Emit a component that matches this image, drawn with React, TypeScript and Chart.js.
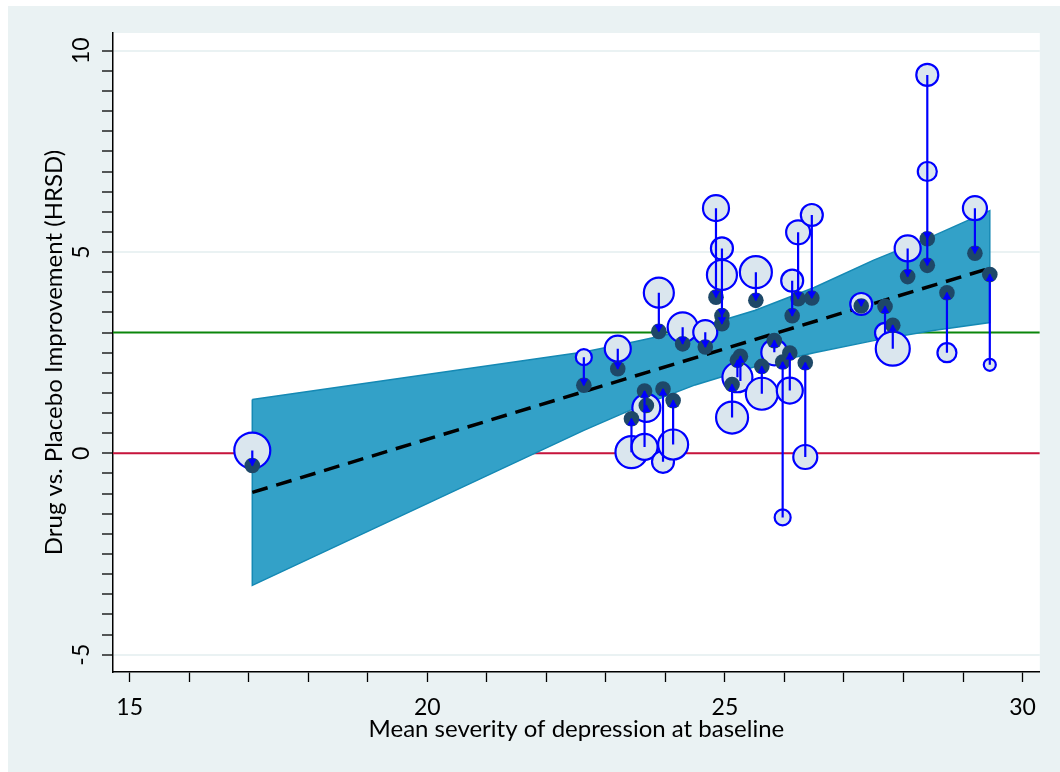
import React, { useEffect, useRef } from 'react';
import { Chart, registerables } from 'chart.js';

Chart.register(...registerables);

// ---- data ----
const studyX = [17.06, 22.63, 23.2, 23.89, 24.29, 24.67, 24.85, 24.95, 24.95, 25.52, 26.13, 26.23, 26.46, 27.29, 23.43, 23.65, 23.68, 23.96, 24.13, 25.12, 25.26, 25.21, 25.62, 25.83, 26.09, 25.97, 26.35, 28.4, 28.4, 28.07, 29.2, 29.45, 28.73, 27.69, 27.82];
const studyOpenY = [0.07, 2.39, 2.6, 3.99, 3.13, 3.01, 6.09, 5.09, 4.43, 4.5, 4.29, 5.49, 5.92, 3.71, 0.03, 0.16, 1.13, -0.21, 0.22, 0.89, 1.8, 1.89, 1.48, 2.51, 1.56, -1.59, -0.09, 9.4, 7.0, 5.09, 6.09, 2.2, 2.5, 2.99, 2.6];
const studyDotY = [-0.3, 1.69, 2.1, 3.03, 2.72, 2.64, 3.88, 3.22, 3.42, 3.8, 3.42, 3.84, 3.86, 3.66, 0.86, 1.55, 1.19, 1.6, 1.31, 1.71, 2.41, 2.31, 2.16, 2.8, 2.49, 2.27, 2.25, 5.33, 4.67, 4.39, 4.97, 4.44, 3.99, 3.65, 3.18];
const studyWeight = [1.8, 0.8, 1.3, 1.5, 1.5, 1.2, 1.3, 1.1, 1.5, 1.6, 1.1, 1.2, 1.1, 1.1, 1.6, 1.3, 1.4, 1.1, 1.5, 1.6, 1.0, 1.5, 1.6, 1.3, 1.3, 0.8, 1.2, 1.1, 0.95, 1.3, 1.2, 0.6, 0.95, 1.0, 1.7];

const bandX = [17.06, 22.63, 23.5, 24.5, 25.5, 26.5, 27.5, 28.5, 29.45];
const bandUpper = [1.34, 2.52, 2.78, 3.1, 3.55, 4.12, 4.8, 5.4, 6.03];
const bandLower = [-3.28, 0.57, 1.13, 1.7, 2.15, 2.5, 2.8, 3.05, 3.25];

const fitX = [17.06, 29.45];
const fitY = [-0.97, 4.6];

const refLineY = [0, 3];

const xTickLabels = ['15', '20', '25', '30'];
const yTickLabels = ['-5', '0', '5', '10'];
const xTitle = 'Mean severity of depression at baseline';
const yTitle = 'Drug vs. Placebo Improvement (HRSD)';

const X_MIN = 14.72;
const X_MAX = 30.29;
const Y_MIN = -5.43;
const Y_MAX = 10.44;

// ---- styles ----
const FONT = 'Lato, "Open Sans", sans-serif';
const BG = '#eaf2f3';
const BLUE = '#0000ff';
const DOT = '#1e4868';
const OPEN_FILL = '#dae6ee';
const BAND_FILL = '#33a1c8';
const BAND_EDGE = '#1589b4';

const plotBgPlugin = {
  id: 'plotBg',
  beforeDraw(chart: any) {
    const { ctx, chartArea } = chart;
    ctx.save();
    ctx.fillStyle = BG;
    ctx.fillRect(0, 0, chart.width, chart.height);
    ctx.fillStyle = '#ffffff';
    ctx.fillRect(chartArea.left, chartArea.top, chartArea.right - chartArea.left, chartArea.bottom - chartArea.top);
    ctx.restore();
  },
};

const arrowPlugin = {
  id: 'arrowHeads',
  afterDatasetsDraw(chart: any) {
    const { ctx } = chart;
    const xs = chart.scales.x;
    const ys = chart.scales.y;
    ctx.save();
    ctx.fillStyle = BLUE;
    for (let i = 0; i < studyX.length; i++) {
      const px = xs.getPixelForValue(studyX[i]);
      const pOpen = ys.getPixelForValue(studyOpenY[i]);
      const pDot = ys.getPixelForValue(studyDotY[i]);
      const dir = pDot > pOpen ? 1 : -1;
      const len = 7.5;
      const hw = 4.3;
      const tip = pDot + dir * 1;
      ctx.beginPath();
      ctx.moveTo(px, tip);
      ctx.lineTo(px - hw, tip - dir * len);
      ctx.lineTo(px + hw, tip - dir * len);
      ctx.closePath();
      ctx.fill();
    }
    ctx.restore();
  },
};

const yLabelPlugin = {
  id: 'yLabels',
  afterDraw(chart: any) {
    const { ctx } = chart;
    const ys = chart.scales.y;
    ctx.save();
    ctx.fillStyle = '#000';
    ctx.font = `23px ${FONT}`;
    ctx.textAlign = 'center';
    ctx.textBaseline = 'middle';
    for (const t of ys.ticks) {
      const label = String(t.value);
      if (!yTickLabels.includes(label)) continue;
      const py = ys.getPixelForValue(t.value);
      ctx.save();
      ctx.translate(ys.right - 31, py);
      ctx.rotate(-Math.PI / 2);
      ctx.fillText(label, 0, 0);
      ctx.restore();
    }
    ctx.restore();
  },
};

export default function App() {
  const ref = useRef<HTMLCanvasElement | null>(null);

  useEffect(() => {
    document.body.style.margin = '0';
    const canvas = ref.current;
    if (!canvas) return;

    const stemData: any[] = [];
    studyX.forEach((x, i) => {
      stemData.push({ x, y: studyOpenY[i] });
      stemData.push({ x, y: studyDotY[i] });
      stemData.push({ x, y: null });
    });

    const outline: any[] = [];
    bandX.forEach((x, i) => outline.push({ x, y: bandUpper[i] }));
    for (let i = bandX.length - 1; i >= 0; i--) outline.push({ x: bandX[i], y: bandLower[i] });
    outline.push({ x: bandX[0], y: bandUpper[0] });

    const datasets: any[] = [
      ...refLineY.map((v, k) => ({
        type: 'line',
        data: [{ x: X_MIN, y: v }, { x: X_MAX, y: v }],
        borderColor: k === 0 ? '#c8143c' : '#0b860b',
        borderWidth: 2,
        pointRadius: 0,
        order: 20,
      })),
      {
        type: 'line',
        data: bandX.map((x, i) => ({ x, y: bandUpper[i] })),
        borderWidth: 0,
        borderColor: 'rgba(0,0,0,0)',
        backgroundColor: BAND_FILL,
        fill: '+1',
        pointRadius: 0,
        order: 15,
      },
      {
        type: 'line',
        data: bandX.map((x, i) => ({ x, y: bandLower[i] })),
        borderWidth: 0,
        borderColor: 'rgba(0,0,0,0)',
        fill: false,
        pointRadius: 0,
        order: 14,
      },
      {
        type: 'line',
        data: outline,
        borderColor: BAND_EDGE,
        borderWidth: 1.5,
        fill: false,
        pointRadius: 0,
        order: 13,
      },
      {
        type: 'line',
        data: fitX.map((x, i) => ({ x, y: fitY[i] })),
        borderColor: '#000',
        borderWidth: 3.5,
        borderDash: [16, 9],
        fill: false,
        pointRadius: 0,
        order: 12,
      },
      {
        type: 'scatter',
        data: studyX.map((x, i) => ({ x, y: studyOpenY[i] })),
        pointRadius: studyWeight.map((w) => w * 10),
        pointHoverRadius: studyWeight.map((w) => w * 10),
        backgroundColor: OPEN_FILL,
        borderColor: BLUE,
        borderWidth: 2.2,
        order: 11,
      },
      {
        type: 'scatter',
        data: studyX.map((x, i) => ({ x, y: studyDotY[i] })),
        pointRadius: 7.8,
        backgroundColor: DOT,
        borderWidth: 0,
        order: 10,
      },
      {
        type: 'line',
        data: stemData,
        borderColor: BLUE,
        borderWidth: 2.2,
        pointRadius: 0,
        spanGaps: false,
        fill: false,
        order: 9,
      },
    ];

    const chart = new Chart(canvas, {
      type: 'scatter',
      data: { datasets },
      plugins: [plotBgPlugin, arrowPlugin, yLabelPlugin],
      options: {
        animation: false,
        responsive: false,
        events: [],
        layout: { padding: { top: 27, right: 20, left: 0, bottom: 0 } },
        plugins: { legend: { display: false }, tooltip: { enabled: false } },
        elements: { line: { tension: 0 } },
        scales: {
          x: {
            type: 'linear',
            min: X_MIN,
            max: X_MAX,
            afterFit: (s: any) => { s.height = 100; },
            border: { color: '#000', width: 1.5 },
            grid: {
              drawOnChartArea: false,
              drawTicks: true,
              tickLength: 10,
              tickColor: '#000',
              tickWidth: 1.3,
            },
            ticks: {
              stepSize: 1,
              includeBounds: false,
              autoSkip: false,
              maxRotation: 0,
              minRotation: 0,
              padding: 12,
              color: '#000',
              font: { family: FONT, size: 23 },
              callback: (v: any) => (xTickLabels.includes(String(v)) ? String(v) : ''),
            },
            title: {
              display: true,
              text: xTitle,
              color: '#000',
              font: { family: FONT, size: 24 },
              padding: { top: 0, bottom: 28 },
            },
          },
          y: {
            type: 'linear',
            min: Y_MIN,
            max: Y_MAX,
            afterFit: (s: any) => { s.width = 105; },
            border: { color: '#000', width: 1.5 },
            grid: {
              drawOnChartArea: true,
              drawTicks: true,
              tickLength: 11,
              tickWidth: 1.3,
              tickColor: '#000',
              lineWidth: 2,
              color: (c: any) => (c.tick && yTickLabels.includes(String(c.tick.value)) ? BG : 'rgba(0,0,0,0)'),
            },
            ticks: {
              stepSize: 0.5,
              includeBounds: false,
              autoSkip: false,
              display: false,
            },
            title: {
              display: true,
              text: yTitle,
              color: '#000',
              font: { family: FONT, size: 24 },
              padding: { top: 32, bottom: 0 },
            },
          },
        },
      } as any,
    });
    return () => chart.destroy();
  }, []);

  return (
    <div style={{ padding: '6px 0 0 8px', background: '#fff', width: 1052, height: 766 }}>
      <canvas ref={ref} width={1052} height={766} style={{ display: 'block', width: 1052, height: 766 }} />
    </div>
  );
}
